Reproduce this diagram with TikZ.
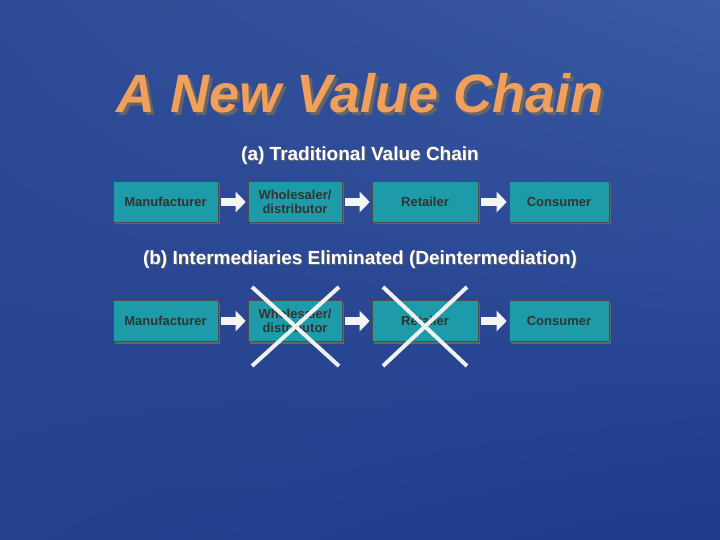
\documentclass[tikz,border=0pt]{standalone}
\usepackage{fontspec}
\setmainfont{Liberation Sans}
\usetikzlibrary{arrows.meta,shadings}
\definecolor{bgA}{HTML}{2E4A94}
\definecolor{bgB}{HTML}{3A5AA3}
\definecolor{bgD}{HTML}{26428E}
\definecolor{bgC}{HTML}{1E3A8C}
\definecolor{boxc}{HTML}{1E9BA8}
\definecolor{ttl}{HTML}{F0A05A}
\tikzset{
 bx/.style={draw=black!70,line width=0.6pt,fill=boxc,minimum height=41pt,align=center,font=\bfseries\fontsize{13}{14}\selectfont,text=black!80,inner sep=0pt},
 ar/.style={-{Triangle[length=10pt,width=20pt]},line width=8pt,white!92!gray},
 cr/.style={line width=4pt,white!88!gray},
 hd/.style={font=\bfseries\fontsize{19}{21}\selectfont},
}
\begin{document}
\begin{tikzpicture}[x=1pt,y=-1pt]
\useasboundingbox (0,0) rectangle (720,540);
\shade[upper left=bgA,upper right=bgB,lower left=bgD,lower right=bgC] (0,0) rectangle (720,540);
\node[font=\bfseries\itshape\fontsize{54}{56}\selectfont,text=black!60] at (363,96) {A New Value Chain};
\node[font=\bfseries\itshape\fontsize{54}{56}\selectfont,text=ttl] (title) at (360,93) {A New Value Chain};
\node[hd,text=black!60] at (361,157) {(a) Traditional Value Chain};
\node[hd,text=white] (ha) at (360,156) {(a) Traditional Value Chain};
\node[hd,text=black!60] at (361,261) {(b) Intermediaries Eliminated (Deintermediation)};
\node[hd,text=white] (hb) at (360,260) {(b) Intermediaries Eliminated (Deintermediation)};
\foreach \r/\y in {a/202,b/321}{
 \foreach \n/\x/\w/\t in {m/165.5/105/Manufacturer,w/295/94/{Wholesaler/\\distributor},r/425/106/Retailer,c/559/100/Consumer}{
  \fill[black!60] (\x-\w/2+2,\y-20.5+2) rectangle (\x+\w/2+2,\y+20.5+2);
  \node[bx,minimum width=\w pt] (\n\r) at (\x,\y) {\t};
 }
}
\foreach \r in {a,b}{
 \draw[ar] ([xshift=3pt]m\r.east) -- ([xshift=-2pt]w\r.west);
 \draw[ar] ([xshift=3pt]w\r.east) -- ([xshift=-2pt]r\r.west);
 \draw[ar] ([xshift=3pt]r\r.east) -- ([xshift=-2pt]c\r.west);
}
\coordinate (x1a) at (252,287); \coordinate (x1b) at (339,366);
\coordinate (x1c) at (339,287); \coordinate (x1d) at (252,366);
\coordinate (x2a) at (383,287); \coordinate (x2b) at (467,366);
\coordinate (x2c) at (467,287); \coordinate (x2d) at (383,366);
\draw[cr] (x1a) -- (x1b); \draw[cr] (x1c) -- (x1d);
\draw[cr] (x2a) -- (x2b); \draw[cr] (x2c) -- (x2d);
\end{tikzpicture}
\end{document}
